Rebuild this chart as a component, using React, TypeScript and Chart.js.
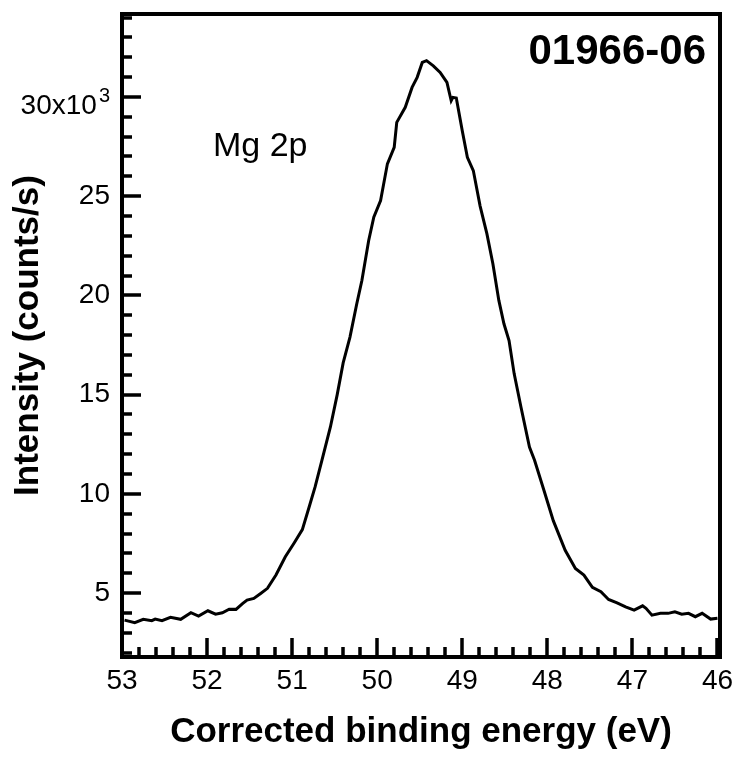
import React, { useEffect, useRef } from 'react';
import { Chart, registerables } from 'chart.js';

Chart.register(...registerables);

// Binding energy (eV) and intensity (counts/s)
const energies = [
  52.97, 52.85, 52.75, 52.65, 52.61, 52.53, 52.43, 52.31, 52.19, 52.10,
  51.99, 51.90, 51.82, 51.74, 51.66, 51.58, 51.53, 51.45, 51.37, 51.29,
  51.19, 51.08, 50.98, 50.88, 50.80, 50.73, 50.65, 50.55, 50.47, 50.40,
  50.32, 50.24, 50.18, 50.10, 50.04, 49.96, 49.88, 49.80, 49.77, 49.67,
  49.59, 49.53, 49.47, 49.42, 49.34, 49.26, 49.18, 49.13, 49.11, 49.07,
  49.00, 48.94, 48.87, 48.79, 48.71, 48.64, 48.57, 48.51, 48.45, 48.39,
  48.31, 48.21, 48.15, 48.04, 47.93, 47.79, 47.67, 47.57, 47.47, 47.37,
  47.28, 47.18, 47.08, 46.98, 46.88, 46.84, 46.77, 46.67, 46.58, 46.50,
  46.42, 46.34, 46.26, 46.18, 46.08, 46.00,
];

const intensities = [
  3640, 3510, 3680, 3610, 3690, 3610, 3780, 3680, 4010, 3840,
  4110, 3940, 4010, 4190, 4180, 4480, 4650, 4730, 4980, 5240,
  5910, 6830, 7500, 8200, 9340, 10350, 11690, 13370, 15000, 16600,
  17900, 19580, 20750, 22770, 23940, 24780, 26630, 27460, 28720, 29480,
  30480, 30990, 31740, 31830, 31570, 31240, 30730, 29810, 29980, 29950,
  28300, 26960, 26290, 24500, 23100, 21600, 19750, 18570, 17730, 16060,
  14380, 12360, 11690, 10180, 8650, 7160, 6240, 5910, 5290, 5070,
  4680, 4510, 4310, 4140, 4360, 4230, 3890, 3980, 3980, 4060,
  3940, 3980, 3810, 3980, 3690, 3730,
];

const xTickValues = [53, 52, 51, 50, 49, 48, 47, 46];
const yTickValues = [5000, 10000, 15000, 20000, 25000, 30000];
const yTopLabelBase = '30x10';
const yTopLabelSup = '3';
const chartTitle = '01966-06';
const peakLabel = 'Mg 2p';
const xAxisTitle = 'Corrected binding energy (eV)';
const yAxisTitle = 'Intensity (counts/s)';

const FONT = '"Liberation Sans", Arial, Helvetica, sans-serif';

const framePlugin = {
  id: 'framePlugin',
  afterDraw(chart: any) {
    const { ctx, chartArea: a, scales } = chart;
    const xs = scales.x;
    const ys = scales.y;
    ctx.save();
    ctx.strokeStyle = '#000';
    ctx.fillStyle = '#000';
    ctx.lineJoin = 'miter';
    ctx.lineCap = 'butt';

    // inward ticks
    ctx.lineWidth = 3.5;
    ctx.beginPath();
    for (let v = 2000; v <= 34000; v += 1000) {
      const py = Math.round(ys.getPixelForValue(v));
      const len = v % 5000 === 0 ? 19 : 10;
      ctx.moveTo(a.left, py);
      ctx.lineTo(a.left + len, py);
    }
    for (let i = 0; i <= 35; i++) {
      const v = 46 + i * 0.2;
      const px = Math.round(xs.getPixelForValue(v));
      const len = i % 5 === 0 ? 19 : 10;
      ctx.moveTo(px, a.bottom);
      ctx.lineTo(px, a.bottom - len);
    }
    ctx.stroke();

    // frame
    ctx.lineWidth = 4;
    ctx.beginPath();
    ctx.rect(a.left, a.top, a.right - a.left, a.bottom - a.top);
    ctx.stroke();

    // top y label with superscript
    const py30 = ys.getPixelForValue(30000);
    const rightEdge = a.left - 12;
    ctx.font = `20px ${FONT}`;
    const supW = ctx.measureText(yTopLabelSup).width;
    ctx.textAlign = 'left';
    ctx.textBaseline = 'alphabetic';
    ctx.fillText(yTopLabelSup, rightEdge - supW, py30 + 5);
    ctx.font = `28px ${FONT}`;
    ctx.textAlign = 'right';
    ctx.fillText(yTopLabelBase, rightEdge - supW - 2, py30 + 17);

    // annotations
    ctx.font = `bold 42px ${FONT}`;
    ctx.textAlign = 'right';
    ctx.fillText(chartTitle, a.right - 14, a.top + 50);
    ctx.font = `34px ${FONT}`;
    ctx.textAlign = 'left';
    ctx.fillText(peakLabel, 213, 156);
    ctx.restore();
  },
};

export default function App() {
  const ref = useRef<HTMLCanvasElement | null>(null);

  useEffect(() => {
    if (!ref.current) return;
    const chart = new Chart(ref.current, {
      type: 'line',
      data: {
        datasets: [
          {
            data: energies.map((e, i) => ({ x: e, y: intensities[i] })),
            borderColor: '#000',
            borderWidth: 3,
            pointRadius: 0,
            tension: 0,
            fill: false,
          },
        ],
      },
      options: {
        animation: false,
        responsive: false,
        devicePixelRatio: 1,
        layout: { padding: { top: 14, right: 16, left: 0, bottom: 0 } },
        plugins: {
          legend: { display: false },
          tooltip: { enabled: false },
        },
        scales: {
          x: {
            type: 'linear',
            reverse: true,
            min: 45.97,
            max: 53.0,
            afterBuildTicks: (s: any) => {
              s.ticks = xTickValues.map((v) => ({ value: v }));
            },
            afterFit: (s: any) => {
              s.height = 104;
              s.paddingLeft = 0;
              s.paddingRight = 0;
            },
            grid: { display: false, drawTicks: false },
            border: { display: false },
            ticks: {
              padding: 7,
              color: '#000',
              maxRotation: 0,
              autoSkip: false,
              font: { family: FONT, size: 28 },
              callback: (v: any) => String(v),
            },
            title: {
              display: true,
              text: xAxisTitle,
              color: '#000',
              font: { family: FONT, size: 35, weight: 'bold' },
              padding: { top: 0, bottom: 8 },
            },
          },
          y: {
            type: 'linear',
            min: 1780,
            max: 34180,
            afterBuildTicks: (s: any) => {
              s.ticks = yTickValues.map((v) => ({ value: v }));
            },
            afterFit: (s: any) => {
              s.width = 122;
              s.paddingTop = 0;
              s.paddingBottom = 0;
            },
            grid: { display: false, drawTicks: false },
            border: { display: false },
            ticks: {
              padding: 12,
              color: '#000',
              font: { family: FONT, size: 28 },
              callback: (v: any) => (v === 30000 ? '' : String(v / 1000)),
            },
            title: {
              display: true,
              text: yAxisTitle,
              color: '#000',
              font: { family: FONT, size: 35, weight: 'bold' },
              padding: { top: 7, bottom: 0 },
            },
          },
        },
      },
      plugins: [framePlugin],
    });
    return () => chart.destroy();
  }, []);

  return (
    <div style={{ position: 'absolute', left: 0, top: 0, width: 736, height: 761, background: '#fff' }}>
      <canvas ref={ref} width={736} height={761} style={{ display: 'block' }} />
    </div>
  );
}
